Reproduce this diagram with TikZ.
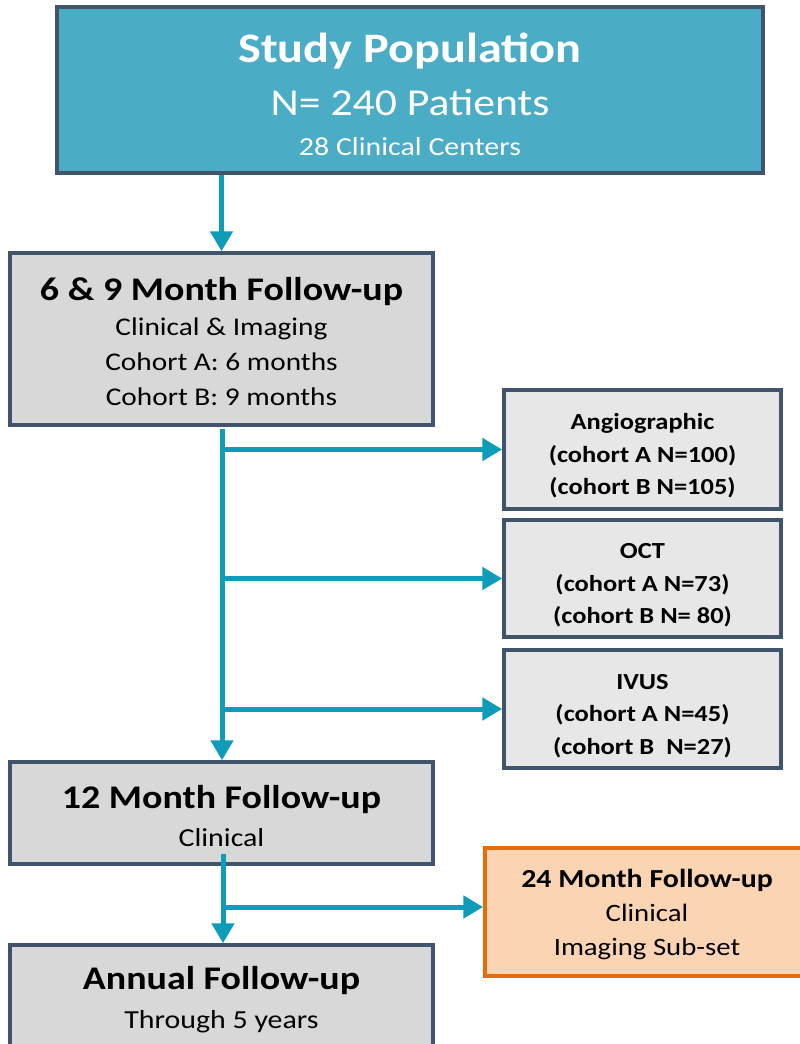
\documentclass[tikz,border=0pt]{standalone}
\usepackage{fontspec}
\setmainfont{Carlito}[FakeStretch=1.15]
\usetikzlibrary{arrows.meta}
\definecolor{topfill}{RGB}{75,172,198}
\definecolor{boxline}{RGB}{64,84,108}
\definecolor{greyfill}{RGB}{216,216,216}
\definecolor{lightfill}{RGB}{231,231,231}
\definecolor{orfill}{RGB}{251,212,180}
\definecolor{orline}{RGB}{228,108,10}
\definecolor{arrowc}{RGB}{14,156,184}
\newcommand{\toprule}[1]{\rule{0pt}{#1}}
\begin{document}
\begin{tikzpicture}[x=1pt,y=-1pt,
  box/.style={draw=boxline,line width=3.5pt,align=center,inner sep=0pt,minimum width=423pt},
  greybox/.style={box,fill=greyfill},
  sidebox/.style={box,fill=lightfill,minimum width=277pt,font=\fontsize{23}{32.5}\selectfont\bfseries},
  conn/.style={draw=arrowc,line width=5pt},
  arr/.style={conn,-{Triangle[width=22pt,length=20pt]}}]
\useasboundingbox (0,0) rectangle (800,1044);
\clip (0,0) rectangle (800,1044);
\node[box,fill=topfill,text=white,minimum width=706pt,minimum height=166pt,
  font=\fontsize{26}{40}\selectfont] (top) at (410,90)
  {\toprule{39pt}{\fontsize{42}{40}\selectfont\bfseries Study Population}\\[13pt]
   {\fontsize{38}{40}\selectfont N= 240 Patients}\\
   28 Clinical Centers};
\node[greybox,minimum height=172pt,font=\fontsize{25.5}{35}\selectfont] (sixnine) at (221.5,339)
  {\toprule{29pt}{\fontsize{33}{35}\selectfont\bfseries 6 \& 9 Month Follow-up}\\
   Clinical \& Imaging\\ Cohort A: 6 months\\ Cohort B: 9 months};
\node[sidebox,minimum height=119pt] (angio) at (642.5,449.5)
  {\toprule{29pt}Angiographic\\ (cohort A N=100)\\ (cohort B N=105)};
\node[sidebox,minimum height=117pt] (oct) at (642.5,578.5)
  {\toprule{29pt}OCT\\ (cohort A N=73)\\ (cohort B N= 80)};
\node[sidebox,minimum height=118pt] (ivus) at (642.5,709)
  {\toprule{29pt}IVUS\\ (cohort A N=45)\\ (cohort B \ N=27)};
\node[greybox,minimum height=102pt,font=\fontsize{26}{38}\selectfont] (twelve) at (221.5,813)
  {\toprule{30pt}{\fontsize{33}{38}\selectfont\bfseries 12 Month Follow-up}\\ Clinical};
\node[box,draw=orline,fill=orfill,minimum width=324pt,minimum height=128pt,
  font=\fontsize{25}{34}\selectfont] (twentyfour) at (647,912)
  {\toprule{23pt}{\fontsize{26}{34}\selectfont\bfseries 24 Month Follow-up}\\ Clinical\\ Imaging Sub-set};
\node[greybox,minimum height=102pt,font=\fontsize{26}{39}\selectfont] (annual) at (221.5,996)
  {\toprule{30pt}{\fontsize{33}{39}\selectfont\bfseries Annual Follow-up}\\ Through 5 years};
% connectors
\draw[arr] (sixnine.north |- top.south) -- (sixnine.north);
\coordinate (t1) at (222,429);
\draw[arr] (t1) -- (t1 |- twelve.north);
\draw[arr] (t1 |- angio.west) -- (angio.west);
\draw[arr] (t1 |- oct.west) -- (oct.west);
\draw[arr] (t1 |- ivus.west) -- (ivus.west);
\coordinate (t2) at (223,854);
\coordinate (b24) at (223,907);
\draw[arr] (t2) -- (t2 |- annual.north);
\draw[arr] (b24) -- (b24 -| twentyfour.west);
\end{tikzpicture}
\end{document}
